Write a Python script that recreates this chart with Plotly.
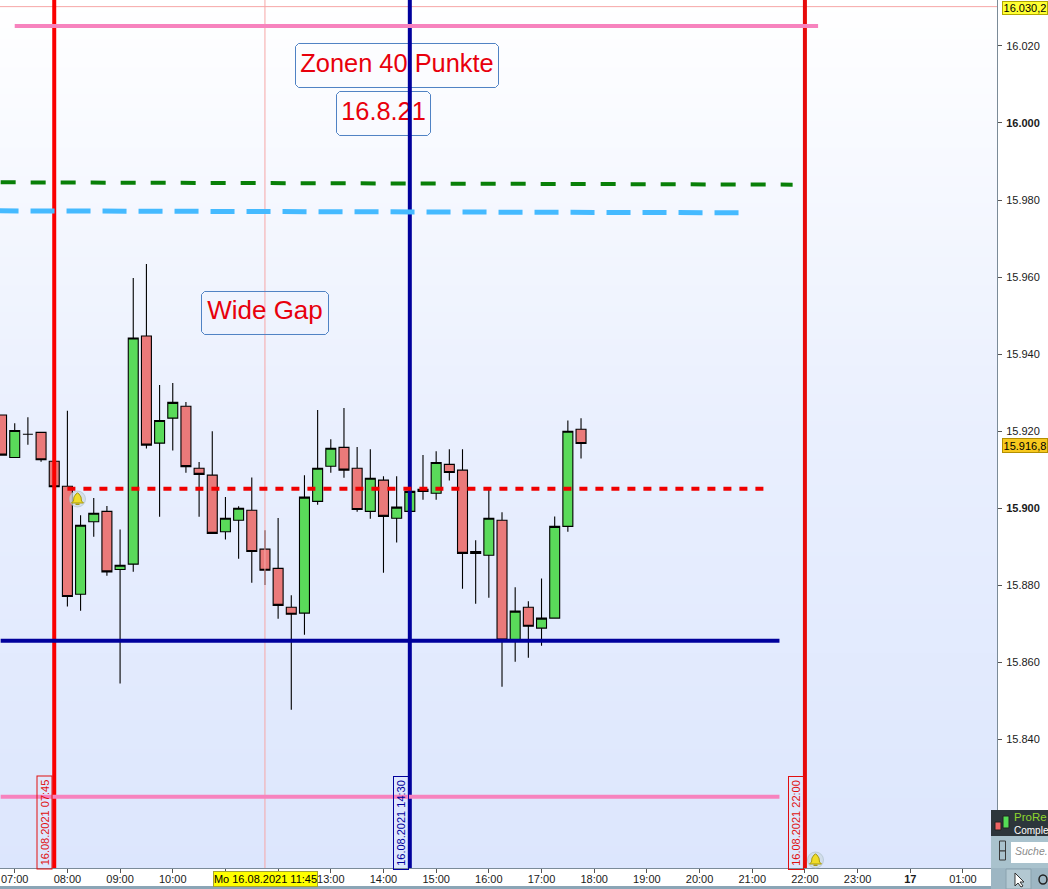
import pandas as pd
import plotly.graph_objects as go

DAY = "2021-08-16 "
times = ["06:45","07:00","07:15","07:30","07:45","08:00","08:15","08:30","08:45","09:00","09:15","09:30","09:45",
         "10:00","10:15","10:30","10:45","11:00","11:15","11:30","11:45","12:00","12:15","12:30","12:45",
         "13:00","13:15","13:30","13:45","14:00","14:15","14:30","14:45","15:00","15:15","15:30","15:45",
         "16:00","16:15","16:30","16:45","17:00","17:15","17:30","17:45"]
opens = [15924.2,15913.2,15919.2,15919.7,15912.2,15905.7,15877.7,15896.5,15899.2,15884.1,15885.5,15944.7,15916.9,
         15923.4,15926.5,15910.4,15908.6,15893.9,15896.9,15899.5,15889.4,15884.4,15874.3,15872.8,15901.8,
         15910.9,15915.8,15910.4,15899.2,15907.3,15897.4,15899.2,15904.9,15903.9,15911.4,15909.9,15888.8,
         15887.8,15896.9,15865.8,15874.3,15868.9,15871.5,15895.3,15920.5]
closes = [15913.8,15920.2,15919.2,15912.6,15905.6,15877.1,15895.6,15898.7,15883.5,15885.2,15944.2,15916.4,15922.8,
          15927.5,15910.8,15908.8,15893.5,15897.4,15900.0,15888.8,15883.9,15874.8,15872.5,15902.9,15910.4,
          15915.6,15909.9,15899.7,15907.8,15897.9,15900.3,15904.4,15904.4,15911.9,15909.3,15888.3,15888.3,
          15897.4,15865.8,15873.3,15869.4,15871.5,15895.3,15920.0,15916.8]
highs = [15924.2,15922.1,15923.6,15919.7,15912.2,15925.3,15898.2,15902.7,15900.6,15894.5,15959.8,15963.4,15932.0,
         15932.5,15927.6,15912.0,15920.0,15902.9,15900.5,15908.0,15894.3,15897.5,15877.4,15908.6,15925.5,
         15917.9,15926.0,15915.9,15915.3,15908.3,15908.3,15904.4,15913.8,15914.8,15915.3,15915.3,15891.7,
         15905.2,15899.0,15879.5,15875.9,15881.8,15897.9,15922.8,15923.4]
lows = [15913.8,15913.2,15916.5,15912.1,15905.6,15874.5,15873.4,15892.6,15882.5,15854.5,15883.5,15915.5,15897.8,
        15915.0,15909.2,15897.8,15893.5,15891.9,15886.9,15880.7,15880.1,15871.3,15847.7,15867.2,15900.9,
        15909.2,15907.9,15899.1,15897.3,15883.3,15891.1,15899.2,15902.2,15902.2,15907.2,15879.1,15875.2,
        15876.8,15853.7,15860.2,15861.2,15864.3,15871.5,15893.9,15912.9]

y_ticks = [16020,16000,15980,15960,15940,15920,15900,15880,15860,15840]
y_labels = ["16.020","<b>16.000</b>","15.980","15.960","15.940","15.920","<b>15.900</b>","15.880","15.860","15.840"]
x_ticks = ["2021-08-16 07:00","2021-08-16 08:00","2021-08-16 09:00","2021-08-16 10:00","2021-08-16 11:00",
           "2021-08-16 12:00","2021-08-16 13:00","2021-08-16 14:00","2021-08-16 15:00","2021-08-16 16:00",
           "2021-08-16 17:00","2021-08-16 18:00","2021-08-16 19:00","2021-08-16 20:00","2021-08-16 21:00",
           "2021-08-16 22:00","2021-08-16 23:00","2021-08-17 00:00","2021-08-17 01:00"]
x_labels = ["07:00","08:00","09:00","10:00","","","13:00","14:00","15:00","16:00","17:00","18:00",
            "19:00","20:00","21:00","22:00","23:00","<b>17</b>","01:00"]

# horizontal and vertical drawing-tool lines: value levels and time spans
pink_top = (16025.2, "2021-08-16 07:00", "2021-08-16 22:15")
pink_bottom = (15825.1, "2021-08-16 06:44", "2021-08-16 21:31")
navy_level = (15865.6, "2021-08-16 06:44", "2021-08-16 21:31")
red_dotted = (15905.1, "2021-08-16 08:00", "2021-08-16 21:14")
green_trend = ([15984.6, 15984.0], ["2021-08-16 06:44", "2021-08-16 21:46"])
sky_trend = ([15977.2, 15976.7], ["2021-08-16 06:37", "2021-08-16 20:46"])
red_times = ["2021-08-16 07:45", "2021-08-16 22:00"]
navy_time = "2021-08-16 14:30"
cursor_time = "2021-08-16 11:45"
cursor_value = 16030.2

X_RANGE = ["2021-08-16 06:43:14", "2021-08-17 01:38:46"]
Y_RANGE = [15806.64, 16031.92]
W, H, R, B = 1048, 889, 51, 21
PW, PH = W - R, H - B

PX_PER_H, X08, PX_PER_PT, Y16 = 52.68, 67.4, 3.853, 123

def t_at(px):
    return str(pd.Timestamp("2021-08-16 08:00") + pd.Timedelta(hours=(px - X08) / PX_PER_H))
def v_at(py):
    return 16000 - (py - Y16) / PX_PER_PT
def xp(px):
    return px / PW
def yp(py):
    return 1 - py / PH

def round_box(x0, y0, x1, y1, r=3):
    pts = [(x0 + r, y0), (x1 - r, y0), (x1, y0 + r), (x1, y1 - r), (x1 - r, y1), (x0 + r, y1), (x0, y1 - r), (x0, y0 + r), (x0 + r, y0)]
    return [t_at(p[0]) for p in pts], [v_at(p[1]) for p in pts]

fig = go.Figure()

# vertical background gradient
fig.add_trace(go.Heatmap(
    x=[X_RANGE[0], X_RANGE[1]], y=[15806.0, 16032.5], z=[[0, 0], [1, 1]], zsmooth="best",
    colorscale=[[0, "#dce6fd"], [0.5, "#e9effe"], [1, "#ffffff"]], showscale=False, hoverinfo="skip"))

fig.add_trace(go.Candlestick(
    x=[DAY + t for t in times], open=opens, high=highs, low=lows, close=closes,
    increasing=dict(fillcolor="#5ada5a", line=dict(color="#000000", width=1.1)),
    decreasing=dict(fillcolor="#ea7a7a", line=dict(color="#000000", width=1.1)),
    whiskerwidth=0, showlegend=False))

def line(x, y, color, width, dash="solid"):
    fig.add_trace(go.Scatter(x=x, y=y, mode="lines", line=dict(color=color, width=width, dash=dash),
                             hoverinfo="skip", showlegend=False))

# crosshair
line([cursor_time, cursor_time], Y_RANGE, "#f6a6a6", 1)
line(X_RANGE, [cursor_value, cursor_value], "#f6a6a6", 1)

# text boxes
boxes = [("Zonen 40 Punkte", 295.5, 43.5, 498.5, 87.5, 25.4),
         ("16.8.21", 336.5, 91.5, 430.5, 135.5, 25.4),
         ("Wide Gap", 201.5, 291.5, 328.5, 334.5, 26)]
for label_text, x0, y0, x1, y1, fsize in boxes:
    bx, by = round_box(x0, y0, x1, y1)
    line(bx, by, "#4f82c4", 1)
    fig.add_trace(go.Scatter(x=[t_at((x0 + x1) / 2)], y=[v_at((y0 + y1) / 2)], mode="text", text=[label_text],
                             textposition="middle center", textfont=dict(family="Liberation Sans", size=fsize, color="#e8000c"),
                             hoverinfo="skip", showlegend=False))

# vertical lines
line([red_times[0], red_times[0]], Y_RANGE, "#fa0000", 4)
line([red_times[1], red_times[1]], Y_RANGE, "#e60a0a", 4)
line([navy_time, navy_time], Y_RANGE, "#00009c", 4)

# horizontal lines
line(pink_top[1:], [pink_top[0]] * 2, "#f783be", 4)
line(pink_bottom[1:], [pink_bottom[0]] * 2, "#f783be", 4)
line(navy_level[1:], [navy_level[0]] * 2, "#00009c", 4)
line(red_dotted[1:], [red_dotted[0]] * 2, "#f00000", 4, "8px,8px")
line(green_trend[1], green_trend[0], "#087f08", 4, "15px,15px")
line(sky_trend[1], sky_trend[0], "#45baff", 5, "24px,12px")

annotations = []
def tag(text, px, py, w, h, bg, border, color="#000000", size=11, angle=0):
    annotations.append(dict(text=text, xref="paper", yref="paper", x=xp(px), y=yp(py), xanchor="center", yanchor="middle",
                            width=w, height=h, bgcolor=bg, bordercolor=border, borderwidth=1, borderpad=0, showarrow=False,
                            textangle=angle, align="center", valign="middle",
                            font=dict(family="Liberation Sans", size=size, color=color)))
def label(text, px, py, color, size=12, family="Liberation Sans"):
    annotations.append(dict(text=text, xref="paper", yref="paper", x=xp(px), y=yp(py), xanchor="left", yanchor="middle",
                            showarrow=False, borderpad=0, font=dict(family=family, size=size, color=color)))

tag("16.030,2", 1024.5, 8, 44, 12, "#ffff33", "#b3a800")
tag("15.916,8", 1024.5, 445, 44, 13, "#f7c81e", "#b38f00")
tag("Mo 16.08.2021 11:45", 265.5, 879, 103, 14, "#ffff00", "#a6a630")
CLR = "rgba(0,0,0,0)"
tag("16.08.2021 07:45", 44.5, 823, 92, 14, CLR, "#e01010", "#e01010", angle=-90)
tag("16.08.2021 14:30", 401, 823, 92, 14, CLR, "#00009c", "#00009c", angle=-90)
tag("16.08.2021 22:00", 796, 823, 92, 14, CLR, "#e01010", "#e01010", angle=-90)

shapes = []
def rect(x0, y0, x1, y1, fill, ln=None):
    shapes.append(dict(type="rect", xref="paper", yref="paper", x0=xp(x0), x1=xp(x1), y0=yp(y1), y1=yp(y0),
                       fillcolor=fill, line=dict(color=ln or fill, width=1 if ln else 0), layer="above"))
def bell(cx, cy):
    shapes.append(dict(type="circle", xref="paper", yref="paper", x0=xp(cx - 8), x1=xp(cx + 8), y0=yp(cy + 8), y1=yp(cy - 8),
                       fillcolor="rgba(205,218,225,0.75)", line=dict(color="rgba(170,190,200,0.6)", width=1), layer="above"))
    pts = [(-6, 4), (-4, 2), (-3.5, -2), (-1.5, -5), (0, -6), (1.5, -5), (3.5, -2), (4, 2), (6, 4)]
    d = "M " + " L ".join(f"{xp(cx + a):.5f},{yp(cy + b):.5f}" for a, b in pts) + " Z"
    shapes.append(dict(type="path", path=d, xref="paper", yref="paper", fillcolor="#f0dc28",
                       line=dict(color="#a89a10", width=1), layer="above"))
    shapes.append(dict(type="rect", xref="paper", yref="paper", x0=xp(cx - 2), x1=xp(cx + 2), y0=yp(cy + 6), y1=yp(cy + 4.5),
                       fillcolor="#a89a10", line=dict(width=0), layer="above"))

bell(77.5, 499)
bell(815.5, 860)

# bottom strip and the software panel at the lower right
rect(0, 886, 1048, 889, "#8ba5b6")
rect(991, 810, 1048, 836, "#2d363b")
rect(991, 836, 1048, 868, "#a9c2cd")
rect(1011, 842, 1050, 863, "#ffffff")
rect(991, 868, 1048, 889, "#9db6c3")
rect(1006, 869, 1031, 889, "#b3c8d2", "#8aa2ae")
rect(995, 822, 1001, 830, "#ee6464", "#222222")
rect(1003, 816, 1009, 828, "#55dd55", "#222222")
rect(999.5, 841, 1005.5, 851, "#a9c2cd", "#3a3a3a")
rect(999.5, 851, 1005.5, 860, "#a9c2cd", "#3a3a3a")
label("ProRe", 1013, 817, "#8fd62e", 11.5)
label("Comple", 1013, 830, "#ffffff", 10)
label("<i>Suche.</i>", 1014, 851, "#8a8a8a", 10.5)
shapes.append(dict(type="path", xref="paper", yref="paper", layer="above", fillcolor="#ffffff", line=dict(color="#333333", width=1),
                   path="M " + " L ".join(f"{xp(a):.5f},{yp(b):.5f}" for a, b in
                                          [(1015, 873), (1015, 886), (1018, 883), (1021, 887), (1023, 886), (1020, 882), (1024, 882)]) + " Z"))
shapes.append(dict(type="circle", xref="paper", yref="paper", layer="above", x0=xp(1039), x1=xp(1047), y0=yp(884), y1=yp(875),
                   fillcolor="rgba(0,0,0,0)", line=dict(color="#222222", width=1.5)))

TICKFONT = dict(family="Liberation Sans", size=11, color="#1a1a1a")
fig.update_layout(
    width=W, height=H, margin=dict(l=0, r=R, t=0, b=B, pad=0), paper_bgcolor="#ffffff", plot_bgcolor="#ffffff",
    showlegend=False, annotations=annotations, shapes=shapes, hovermode=False, boxgap=0.13, boxgroupgap=0.13,
    font=dict(family="Liberation Sans", size=12, color="#1a1a1a"),
    xaxis=dict(range=X_RANGE, type="date", rangeslider=dict(visible=False), showgrid=False, zeroline=False,
               tickmode="array", tickvals=x_ticks, ticktext=x_labels, ticks="outside", ticklen=4, tickcolor="#555555",
               ticklabelstandoff=-3, showline=True, linecolor="#7b8b98", linewidth=1, tickfont=TICKFONT),
    yaxis=dict(range=Y_RANGE, side="right", showgrid=False, zeroline=False, tickmode="array", tickvals=y_ticks, ticktext=y_labels,
               ticks="outside", ticklen=4, tickcolor="#555555", ticklabelstandoff=2, showline=True, linecolor="#7b8b98", linewidth=1,
               tickfont=TICKFONT))

fig.write_html("out.html", config=dict(displayModeBar=False),
               post_script="document.body.style.margin='0';document.documentElement.style.overflow='hidden';")
